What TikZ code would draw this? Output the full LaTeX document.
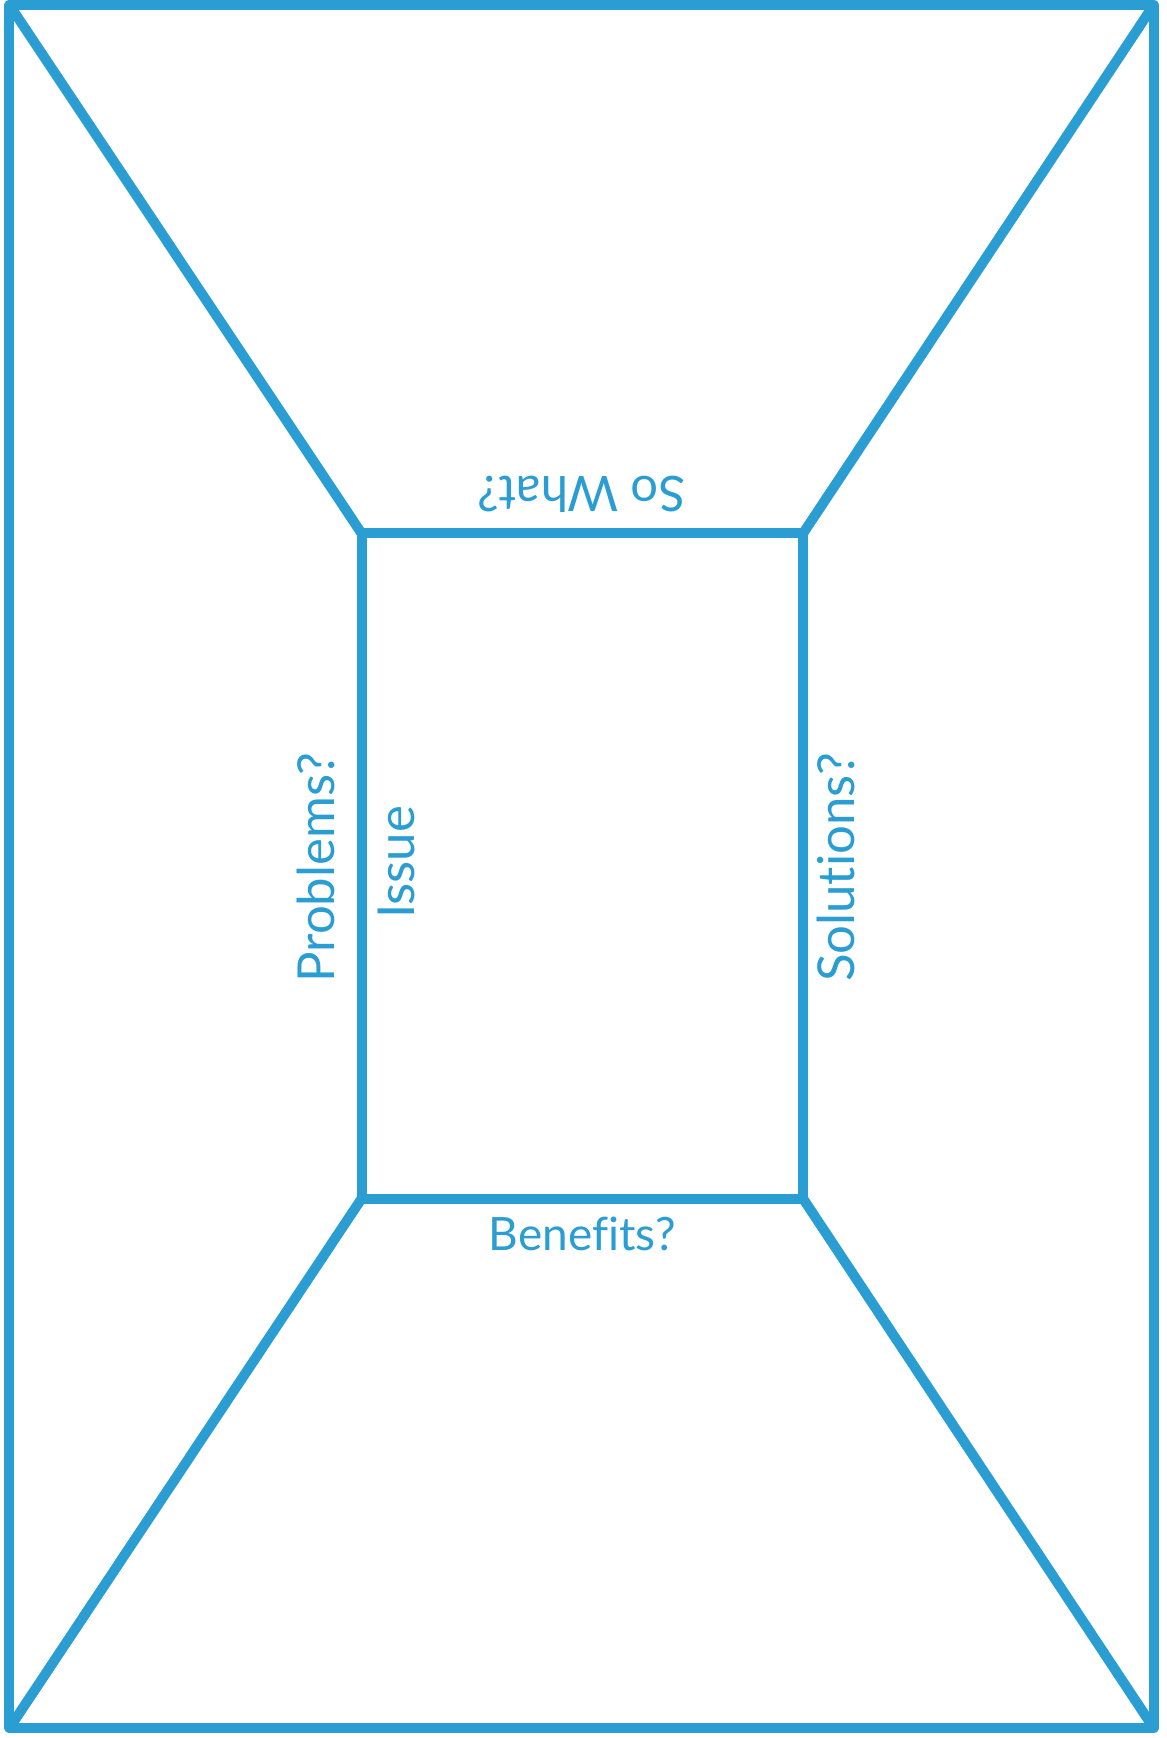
\documentclass[tikz,border=0pt]{standalone}
\usepackage{fontspec}
\setmainfont{Lato}[Ligatures={NoCommon}]
\definecolor{frameblue}{RGB}{42,157,211}
\begin{document}
\begin{tikzpicture}[x=0.5pt,y=0.5pt,
  edge/.style={draw=frameblue,line width=5pt,line join=round,line cap=round},
  lbl/.style={text=frameblue,inner sep=0pt,anchor=base},
  bigtext/.style={font=\fontsize{25.5}{26}\selectfont},
  midtext/.style={font=\fontsize{24.5}{26}\selectfont},
  smalltext/.style={font=\fontsize{23}{24}\selectfont}]
% canvas
\fill[white] (0,0) rectangle (1168,-1738);
% outer frame corners
\coordinate (otl) at (9.5,-3);
\coordinate (otr) at (1155,-3);
\coordinate (obr) at (1155,-1728);
\coordinate (obl) at (9.5,-1728);
% inner frame corners
\coordinate (itl) at (362,-532);
\coordinate (itr) at (804,-532);
\coordinate (ibr) at (804,-1198);
\coordinate (ibl) at (362,-1198);
% frames
\draw[edge] (otl) -- (otr) -- (obr) -- (obl) -- cycle;
\draw[edge] (itl) -- (itr) -- (ibr) -- (ibl) -- cycle;
% corner diagonals
\draw[edge] (otl) -- (itl);
\draw[edge] (otr) -- (itr);
\draw[edge] (obr) -- (ibr);
\draw[edge] (obl) -- (ibl);
% labels
\node[lbl,bigtext,rotate=90] (problems) at (335,-866.5) {Problems?};
\node[lbl,bigtext,rotate=90] (issue) at (415,-861.5) {Issue};
\node[lbl,bigtext,rotate=90] (solutions) at (855,-866.5) {Solutions?};
\node[lbl,midtext,rotate=180] (sowhat) at (582,-475) {So What?};
\node[lbl,smalltext] (benefits) at (583,-1250) {Benefits?};
\end{tikzpicture}
\end{document}
